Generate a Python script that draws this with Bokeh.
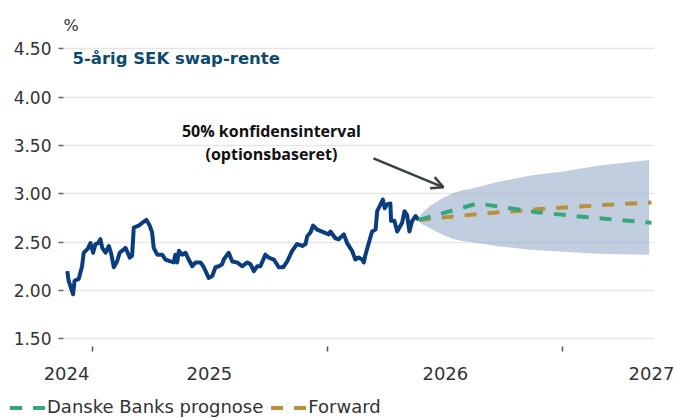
from bokeh.plotting import figure
from bokeh.layouts import column
from bokeh.models import (Range1d, FixedTicker, Label, Arrow, OpenHead, Div,
                          NumeralTickFormatter)
from bokeh.embed import file_html
from bokeh.resources import INLINE

# ---- data (x in years since 2024-01-01) ----
hist_t = [-0.106, -0.100, -0.081, -0.075, -0.057, -0.043, -0.036, -0.019, -0.007, 0.004,
          0.014, 0.026, 0.035, 0.043, 0.057, 0.071, 0.081, 0.092, 0.106, 0.117,
          0.142, 0.160, 0.170, 0.177, 0.198, 0.213, 0.231, 0.245, 0.255, 0.262,
          0.277, 0.298, 0.312, 0.333, 0.347, 0.354, 0.362, 0.369, 0.383, 0.397,
          0.411, 0.426, 0.440, 0.461, 0.475, 0.496, 0.511, 0.525, 0.539, 0.553,
          0.560, 0.581, 0.596, 0.617, 0.638, 0.660, 0.674, 0.688, 0.702, 0.716,
          0.737, 0.751, 0.773, 0.794, 0.813, 0.830, 0.851, 0.872, 0.894, 0.908,
          0.915, 0.929, 0.940, 0.957, 0.986, 1.007, 1.014, 1.035, 1.049, 1.071,
          1.085, 1.106, 1.120, 1.134, 1.149, 1.156, 1.163, 1.177, 1.191, 1.206,
          1.213, 1.227, 1.237, 1.245, 1.255, 1.269, 1.272, 1.286, 1.298, 1.319,
          1.329, 1.340, 1.350, 1.362, 1.376, 1.390]
hist_v = [2.20, 2.10, 1.96, 2.10, 2.12, 2.25, 2.39, 2.43, 2.49, 2.39,
          2.48, 2.49, 2.53, 2.44, 2.39, 2.46, 2.38, 2.24, 2.30, 2.39,
          2.44, 2.34, 2.36, 2.65, 2.67, 2.70, 2.73, 2.67, 2.60, 2.44,
          2.37, 2.37, 2.32, 2.30, 2.29, 2.37, 2.29, 2.41, 2.37, 2.39,
          2.32, 2.25, 2.29, 2.29, 2.24, 2.13, 2.15, 2.24, 2.25, 2.27,
          2.32, 2.39, 2.30, 2.29, 2.25, 2.29, 2.27, 2.20, 2.25, 2.25,
          2.37, 2.34, 2.32, 2.24, 2.24, 2.30, 2.41, 2.48, 2.46, 2.48,
          2.56, 2.60, 2.67, 2.63, 2.60, 2.58, 2.61, 2.54, 2.53, 2.58,
          2.49, 2.41, 2.32, 2.34, 2.32, 2.29, 2.37, 2.49, 2.61, 2.63,
          2.82, 2.89, 2.94, 2.85, 2.89, 2.90, 2.72, 2.72, 2.61, 2.70,
          2.82, 2.78, 2.61, 2.72, 2.77, 2.73]

fc_t = [1.39, 1.64, 1.89, 2.14, 2.38]
danske_v = [2.73, 2.90, 2.81, 2.75, 2.70]
forward_v = [2.73, 2.79, 2.84, 2.88, 2.91]

band_t = [1.39, 1.40, 1.44, 1.495, 1.54, 1.58, 1.61, 1.72, 1.865, 2.005, 2.15, 2.37]
band_hi = [2.73, 2.79, 2.88, 2.96, 3.01, 3.04, 3.05, 3.12, 3.19, 3.23, 3.29, 3.35]
band_lo = [2.73, 2.69, 2.64, 2.57, 2.53, 2.51, 2.50, 2.46, 2.42, 2.40, 2.38, 2.37]

y_ticks = [1.5, 2.0, 2.5, 3.0, 3.5, 4.0, 4.5]
year_ticks = [2024, 2025, 2026]
year_label_pos = [2023.891, 2024.499, 2025.503, 2026.38]
year_labels = ["2024", "2025", "2026", "2027"]
series_names = ["Danske Banks prognose", "Forward"]

GREEN = "#36a77c"
GOLD = "#b8913f"

BASE = 2024
hx = [BASE + t for t in hist_t]
fx = [BASE + t for t in fc_t]
bx = [BASE + t for t in band_t]

p = figure(width=675, height=396, output_backend="svg", toolbar_location=None,
           x_range=Range1d(2023.878, 2026.393), y_range=Range1d(1.42, 4.586),
           min_border_left=63, min_border_right=21, min_border_top=40, min_border_bottom=50)
p.outline_line_color = None
p.background_fill_color = "white"

# title "%"
p.title.text = "%"
p.title.text_font = "DejaVu Sans"
p.title.text_font_size = "16px"
p.title.text_font_style = "normal"
p.title.text_color = "#333333"
p.title.align = "left"
p.title.standoff = 12

# axes
p.yaxis.ticker = FixedTicker(ticks=y_ticks)
p.yaxis.formatter = NumeralTickFormatter(format="0.00")
p.yaxis.axis_line_color = None
p.yaxis.major_tick_in = 0
p.yaxis.major_tick_out = 5
p.yaxis.major_tick_line_color = "#666666"
p.yaxis.major_tick_line_width = 1.5
p.yaxis.minor_tick_line_color = None
p.yaxis.major_label_standoff = 7
p.yaxis.major_label_text_font = "DejaVu Sans"
p.yaxis.major_label_text_font_size = "17px"
p.yaxis.major_label_text_color = "#333333"

p.xaxis.ticker = FixedTicker(ticks=year_label_pos, minor_ticks=year_ticks)
p.xaxis.major_label_overrides = {k: v for k, v in zip(year_label_pos, year_labels)}
p.xaxis.axis_line_color = None
p.xaxis.major_tick_line_color = None
p.xaxis.major_tick_in = 0
p.xaxis.major_tick_out = 0
p.xaxis.minor_tick_in = 0
p.xaxis.minor_tick_out = 5
p.xaxis.minor_tick_line_color = "#555555"
p.xaxis.minor_tick_line_width = 1.5
p.xaxis.major_label_standoff = 15
p.xaxis.major_label_text_font = "DejaVu Sans"
p.xaxis.major_label_text_font_size = "18px"
p.xaxis.major_label_text_color = "#333333"

p.xgrid.visible = False
p.ygrid.ticker = FixedTicker(ticks=y_ticks)
p.ygrid.grid_line_color = "#e6e6e6"
p.ygrid.grid_line_width = 1.5

# confidence band
p.varea(x=bx, y1=band_lo, y2=band_hi, fill_color="#8ea6c4", fill_alpha=0.55)

# history
p.line(hx, hist_v, line_color="#0b3c7d", line_width=4, line_join="round")

# forecasts
p.line(fx, forward_v, line_color=GOLD, line_width=4, line_dash="12 11")
p.line(fx, danske_v, line_color=GREEN, line_width=4, line_dash="12 11")

# labels
p.add_layout(Label(x=2023.916, y=4.40, text="5-årig SEK swap-rente", text_font="DejaVu Sans",
                   text_font_style="bold", text_font_size="16.5px", text_color="#0d4a70",
                   text_baseline="alphabetic", text_align="left"))
p.add_layout(Label(x=2024.763, y=3.645, text="50% konfidensinterval", text_font="Open Sans",
                   text_font_style="bold", text_font_size="16px", text_color="#111111",
                   text_baseline="alphabetic", text_align="center"))
p.add_layout(Label(x=2024.763, y=3.41, text="(optionsbaseret)", text_font="Open Sans",
                   text_font_style="bold", text_font_size="16px", text_color="#111111",
                   text_baseline="alphabetic", text_align="center"))
p.add_layout(Arrow(x_start=2025.197, y_start=3.366, x_end=2025.495, y_end=3.067,
                   line_color="#37423f", line_width=2.5,
                   end=OpenHead(size=12, line_color="#37423f", line_width=2.5)))

# legend strip (HTML, real text)
def dash(color, ml):
    return ('<span style="display:inline-block;width:12px;height:4px;'
            f'background:{color};vertical-align:middle;margin-left:{ml}px"></span>')

def item(color, name, first_ml):
    return (dash(color, first_ml) + dash(color, 11) +
            f'<span style="margin-left:2px">{name}</span>')

legend_html = ('<div style="font-family:\'DejaVu Sans\';font-size:18px;color:#333333;'
               'line-height:22px;height:22px;white-space:nowrap;margin:0;padding:0">'
               + item(GREEN, series_names[0], 10) + item(GOLD, series_names[1], 8)
               + '</div>')
lg = Div(text=legend_html, width=675, height=22, margin=(0, 0, 0, 0),
         styles={"margin": "0px", "padding": "0px"})

layout = column(p, lg, spacing=0)
open("out.html", "w").write(file_html(layout, INLINE))
